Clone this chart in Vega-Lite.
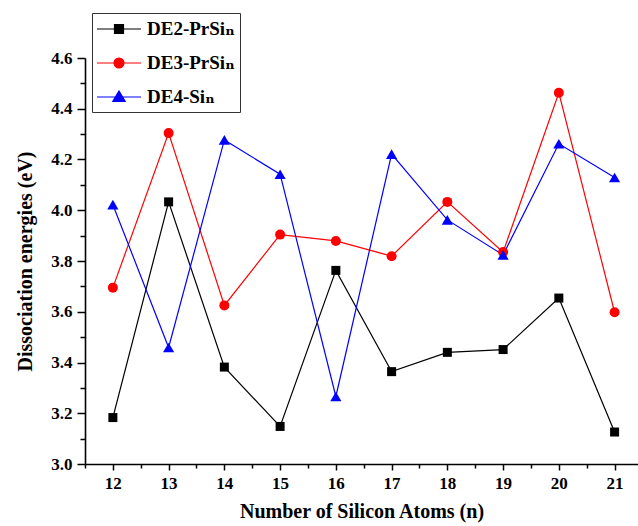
{
  "$schema": "https://vega.github.io/schema/vega-lite/v6.json",
  "autosize": {"type": "none"},
  "padding": {"left": 85, "top": 58, "right": 0, "bottom": 62},
  "width": 553,
  "height": 406,
  "background": "white",
  "config": {"view": {"stroke": null}},
  "data": {
    "values": [
      {"n": 12, "series": "DE2-PrSiₙ", "value": 3.183},
      {"n": 13, "series": "DE2-PrSiₙ", "value": 4.033},
      {"n": 14, "series": "DE2-PrSiₙ", "value": 3.382},
      {"n": 15, "series": "DE2-PrSiₙ", "value": 3.148},
      {"n": 16, "series": "DE2-PrSiₙ", "value": 3.763},
      {"n": 17, "series": "DE2-PrSiₙ", "value": 3.364},
      {"n": 18, "series": "DE2-PrSiₙ", "value": 3.44},
      {"n": 19, "series": "DE2-PrSiₙ", "value": 3.451},
      {"n": 20, "series": "DE2-PrSiₙ", "value": 3.654},
      {"n": 21, "series": "DE2-PrSiₙ", "value": 3.126},
      {"n": 12, "series": "DE3-PrSiₙ", "value": 3.695},
      {"n": 13, "series": "DE3-PrSiₙ", "value": 4.304},
      {"n": 14, "series": "DE3-PrSiₙ", "value": 3.625},
      {"n": 15, "series": "DE3-PrSiₙ", "value": 3.904},
      {"n": 16, "series": "DE3-PrSiₙ", "value": 3.879},
      {"n": 17, "series": "DE3-PrSiₙ", "value": 3.819},
      {"n": 18, "series": "DE3-PrSiₙ", "value": 4.033},
      {"n": 19, "series": "DE3-PrSiₙ", "value": 3.835},
      {"n": 20, "series": "DE3-PrSiₙ", "value": 4.463},
      {"n": 21, "series": "DE3-PrSiₙ", "value": 3.598},
      {"n": 12, "series": "DE4-Siₙ", "value": 4.022},
      {"n": 13, "series": "DE4-Siₙ", "value": 3.459},
      {"n": 14, "series": "DE4-Siₙ", "value": 4.277},
      {"n": 15, "series": "DE4-Siₙ", "value": 4.142},
      {"n": 16, "series": "DE4-Siₙ", "value": 3.266},
      {"n": 17, "series": "DE4-Siₙ", "value": 4.221},
      {"n": 18, "series": "DE4-Siₙ", "value": 3.962},
      {"n": 19, "series": "DE4-Siₙ", "value": 3.824},
      {"n": 20, "series": "DE4-Siₙ", "value": 4.262},
      {"n": 21, "series": "DE4-Siₙ", "value": 4.129}
    ]
  },
  "resolve": {"axis": {"x": "independent", "y": "independent"}},
  "layer": [
    {
      "mark": {"type": "line", "strokeWidth": 1.2},
      "encoding": {
        "x": {
          "field": "n", "type": "quantitative",
          "scale": {"domain": [11.5, 21.42], "nice": false, "zero": false},
          "axis": {
            "orient": "bottom",
            "values": [12, 13, 14, 15, 16, 17, 18, 19, 20, 21],
            "grid": false,
            "domainColor": "black", "domainWidth": 1.6,
            "tickColor": "black", "tickWidth": 1.5, "tickSize": 6,
            "labelFont": "Liberation Serif", "labelFontWeight": "bold", "labelFontSize": 17, "labelColor": "black",
            "labelPadding": 5, "labelFlush": false,
            "title": "Number of Silicon Atoms (n)",
            "titleFont": "Liberation Serif", "titleFontWeight": "bold", "titleFontSize": 20, "titleColor": "black",
            "titlePadding": 10
          }
        },
        "y": {
          "field": "value", "type": "quantitative",
          "scale": {"domain": [3.0, 4.6], "nice": false, "zero": false},
          "axis": {
            "orient": "left",
            "values": [3.0, 3.2, 3.4, 3.6, 3.8, 4.0, 4.2, 4.4, 4.6],
            "format": ".1f",
            "grid": false,
            "domainColor": "black", "domainWidth": 1.6,
            "tickColor": "black", "tickWidth": 1.5, "tickSize": 8,
            "labelFont": "Liberation Serif", "labelFontWeight": "bold", "labelFontSize": 17, "labelColor": "black",
            "labelPadding": 5, "labelFlush": false,
            "title": "Dissociation energies (eV)",
            "titleFont": "Liberation Serif", "titleFontWeight": "bold", "titleFontSize": 20, "titleColor": "black",
            "titlePadding": 15
          }
        },
        "color": {
          "field": "series", "type": "nominal",
          "scale": {"domain": ["DE2-PrSiₙ", "DE3-PrSiₙ", "DE4-Siₙ"], "range": ["#000000", "#ff0000", "#0000ff"]},
          "legend": {
            "orient": "none",
            "legendX": 7,
            "legendY": -45,
            "title": null,
            "strokeColor": "#333333",
            "padding": 5,
            "symbolSize": 400,
            "symbolOffset": 11,
            "symbolStrokeWidth": 1.2,
            "labelOffset": 17,
            "rowPadding": 13,
            "labelFont": "Liberation Serif, DejaVu Serif",
            "labelFontWeight": "bold",
            "labelFontSize": 19,
            "labelColor": "black",
            "labelLimit": 300,
            "encode": {
              "symbols": {
                "update": {
                  "shape": {"signal": "datum.index == 0 ? 'M-2.2,0H2.2M-0.45,-0.45H0.45V0.45H-0.45Z' : datum.index == 1 ? 'M-2.2,0H2.2M-0.5,0A0.5,0.5,0,1,0,0.5,0A0.5,0.5,0,1,0,-0.5,0Z' : 'M-2.2,0H2.2M0,-0.6L0.62,0.45H-0.62Z'"},
                  "stroke": {"signal": "scale('color', datum.value)"},
                  "fill": {"signal": "scale('color', datum.value)"},
                  "strokeWidth": {"value": 1.2},
                  "strokeOpacity": {"value": 1},
                  "fillOpacity": {"value": 1},
                  "opacity": {"value": 1}
                }
              }
            }
          }
        },
        "detail": {"field": "series"}
      }
    },
    {
      "transform": [{"filter": "datum.series == 'DE2-PrSiₙ'"}],
      "mark": {"type": "point", "filled": true, "opacity": 1, "shape": "square", "size": 81},
      "encoding": {
        "x": {
          "field": "n", "type": "quantitative",
          "axis": {
            "orient": "bottom",
            "values": [11.5, 12.5, 13.5, 14.5, 15.5, 16.5, 17.5, 18.5, 19.5, 20.5],
            "grid": false, "domain": false, "labels": false, "title": null,
            "tickColor": "black", "tickWidth": 1.5, "tickSize": 4
          }
        },
        "y": {
          "field": "value", "type": "quantitative",
          "axis": {
            "orient": "left",
            "values": [3.1, 3.3, 3.5, 3.7, 3.9, 4.1, 4.3, 4.5],
            "grid": false, "domain": false, "labels": false, "title": null,
            "tickColor": "black", "tickWidth": 1.5, "tickSize": 5
          }
        },
        "color": {"field": "series", "type": "nominal", "legend": null}
      }
    },
    {
      "transform": [{"filter": "datum.series == 'DE3-PrSiₙ'"}],
      "mark": {"type": "point", "filled": true, "opacity": 1, "shape": "circle", "size": 100},
      "encoding": {
        "x": {"field": "n", "type": "quantitative", "axis": null},
        "y": {"field": "value", "type": "quantitative", "axis": null},
        "color": {"field": "series", "type": "nominal", "legend": null}
      }
    },
    {
      "transform": [{"filter": "datum.series == 'DE4-Siₙ'"}],
      "mark": {"type": "point", "filled": true, "opacity": 1, "shape": "triangle-up", "size": 125},
      "encoding": {
        "x": {"field": "n", "type": "quantitative", "axis": null},
        "y": {"field": "value", "type": "quantitative", "axis": null},
        "color": {"field": "series", "type": "nominal", "legend": null}
      }
    }
  ]
}
